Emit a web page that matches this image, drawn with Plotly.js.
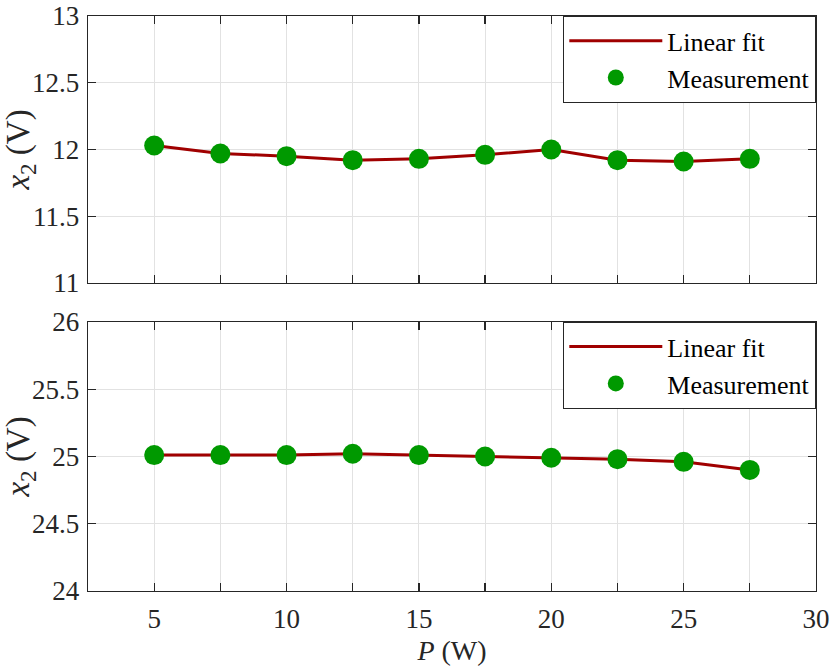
<!DOCTYPE html>
<html>
<head>
<meta charset="utf-8">
<script src="https://cdn.plot.ly/plotly-3.0.1.min.js"></script>
<style>
  body { margin: 0; background: #fff }
  #plot { width: 830px; height: 666px }
</style>
</head>
<body>
<div id="plot"></div>
<script>
// power (W) and measured x2 (V) for the two set points
const power = [5, 7.5, 10, 12.5, 15, 17.5, 20, 22.5, 25, 27.5]
const x2Low = [12.03, 11.97, 11.95, 11.92, 11.93, 11.96, 12.00, 11.92, 11.91, 11.93]
const x2High = [25.01, 25.01, 25.01, 25.02, 25.01, 25.00, 24.99, 24.98, 24.96, 24.90]

const serif = 'Liberation Serif'
const dark = '#262626'
const grid = '#e2e2e2'
const lineColor = '#a00000'
const dotColor = '#009900'

function pair (y, xa, ya, legend) {
  return [
    {
      x: power, y, xaxis: xa, yaxis: ya,
      type: 'scatter', mode: 'lines', name: 'Linear fit',
      line: { color: lineColor, width: 3 },
      legend
    },
    {
      x: power, y, xaxis: xa, yaxis: ya,
      type: 'scatter', mode: 'markers', name: 'Measurement',
      marker: { color: dotColor, size: 20 },
      legend
    }
  ]
}

const traces = [
  ...pair(x2Low, 'x', 'y', 'legend'),
  ...pair(x2High, 'x2', 'y2', 'legend2')
]

const font = (size) => ({ family: serif, size, color: dark })

const axis = () => ({
  showline: true, mirror: 'ticks', linecolor: dark, linewidth: 1.3,
  ticks: 'inside', ticklen: 8, tickwidth: 1.3, tickcolor: dark,
  showgrid: true, gridcolor: grid, gridwidth: 1,
  zeroline: false,
  tickfont: font(27)
})

// labels every 5 W, grid and ticks every 2.5 W
const xAxis = () => ({
  ...axis(),
  range: [2.5, 30], tick0: 0, dtick: 5, ticklabelstandoff: 3,
  minor: { tick0: 0, dtick: 2.5, ticks: 'inside', ticklen: 8, tickwidth: 1.3, tickcolor: dark, showgrid: true, gridcolor: grid, gridwidth: 1 }
})

const yAxis = (domain, range) => ({
  ...axis(), domain, range, dtick: 0.5, ticklabelstandoff: 2,
  title: { text: '<i>x</i><sub>2</sub> (V)', font: font(33), standoff: 8 }
})

const legend = (y) => ({
  x: 1, xanchor: 'right', y, yanchor: 'top',
  bgcolor: '#fff', bordercolor: dark, borderwidth: 1.3,
  font: { family: serif, size: 26, color: '#000' },
  itemwidth: 93,
  tracegroupgap: 0
})

const layout = {
  width: 830, height: 666,
  margin: { l: 88, r: 14, t: 16, b: 75 },
  paper_bgcolor: '#fff', plot_bgcolor: '#fff',
  font: font(27),
  showlegend: true,
  xaxis: { ...xAxis(), anchor: 'y', showticklabels: false },
  yaxis: yAxis([0.5357, 1], [11, 13]),
  xaxis2: {
    ...xAxis(), anchor: 'y2',
    title: { text: '<i>P</i> (W)', font: font(28), standoff: 16 }
  },
  yaxis2: yAxis([0, 0.468], [24, 26]),
  legend: legend(1),
  legend2: legend(0.468)
}

Plotly.newPlot('plot', traces, layout, { staticPlot: true })
</script>
</body>
</html>
